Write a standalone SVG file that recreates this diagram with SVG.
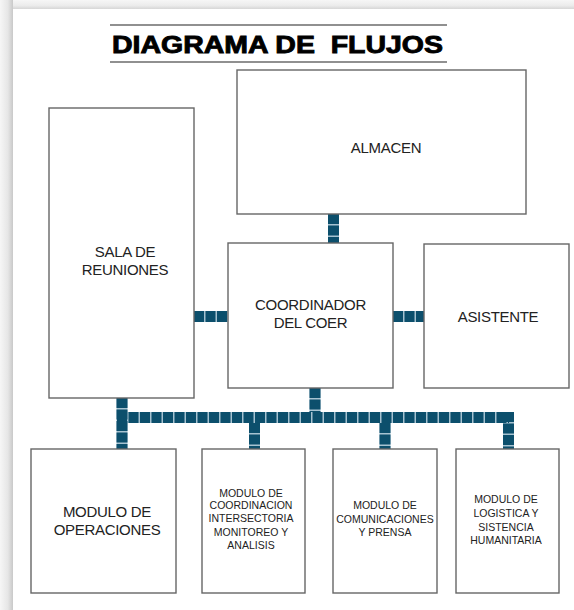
<svg xmlns="http://www.w3.org/2000/svg" width="574" height="610" viewBox="0 0 574 610">
<defs>
<linearGradient id="shL" x1="0" y1="0" x2="1" y2="0">
<stop offset="0" stop-color="#f6f6f6"/><stop offset="0.6" stop-color="#e6e6e6"/><stop offset="1" stop-color="#c9c9c9"/>
</linearGradient>
<linearGradient id="shT" x1="0" y1="0" x2="0" y2="1">
<stop offset="0" stop-color="#f6f6f6"/><stop offset="0.6" stop-color="#ececec"/><stop offset="1" stop-color="#d6d6d6"/>
</linearGradient>
<style>
.box{fill:#fff;stroke:#666;stroke-width:1.4}
.lbl{font-family:"Liberation Sans",Arial,sans-serif;font-size:15px;letter-spacing:-0.3px;fill:#222;text-anchor:middle}
.sm{font-family:"Liberation Sans",Arial,sans-serif;font-size:10.5px;fill:#222;text-anchor:middle}
.pipeBg{fill:none;stroke:#a7c3d1;stroke-width:11}
.pipe{fill:none;stroke:#0c4f6c;stroke-width:11;stroke-dasharray:10 1.5}
</style>
</defs>
<rect x="0" y="0" width="574" height="610" fill="#f6f6f6"/>
<rect x="0" y="0" width="13" height="610" fill="url(#shL)"/>
<rect x="13" y="0" width="561" height="9" fill="url(#shT)"/>
<rect x="13" y="9" width="561" height="601" fill="#fff"/>

<g id="title">
<line x1="110" y1="25" x2="447" y2="25" stroke="#222" stroke-width="1.2"/>
<line x1="110" y1="62" x2="447" y2="62" stroke="#222" stroke-width="1.2"/>
<text x="112" y="53" font-family="'Liberation Sans',Arial,sans-serif" font-size="24" font-weight="bold" fill="#000" stroke="#000" stroke-width="0.9" textLength="331" lengthAdjust="spacingAndGlyphs" style="white-space:pre">DIAGRAMA DE  FLUJOS</text>
</g>

<g id="connectors">
<path class="pipeBg" d="M333.5 214V243M194 316.5H228M393 316.5H424M122 398V449M315 388V412M117 417.5H509M508.5 412V449M254.5 423V449M385 423V449"/>
<path class="pipe" d="M333.5 214V243"/>
<path class="pipe" d="M194 316.5H228"/>
<path class="pipe" d="M393 316.5H424"/>
<path class="pipe" d="M122 398V449"/>
<path class="pipe" d="M315 388V412"/>
<path class="pipe" d="M117 417.5H509"/>
<path class="pipe" d="M508.5 412V449"/>
<path class="pipe" d="M254.5 423V449"/>
<path class="pipe" d="M385 423V449"/>
</g>

<g id="almacen">
<rect class="box" x="237" y="70" width="289" height="144"/>
<text class="lbl" x="386" y="153">ALMACEN</text>
</g>
<g id="sala">
<rect class="box" x="49" y="108" width="145" height="290"/>
<text class="lbl" x="125" y="257">SALA DE</text>
<text class="lbl" x="125" y="275">REUNIONES</text>
</g>
<g id="coordinador">
<rect class="box" x="228" y="243" width="165" height="145"/>
<text class="lbl" x="310.5" y="310">COORDINADOR</text>
<text class="lbl" x="310.5" y="328">DEL COER</text>
</g>
<g id="asistente">
<rect class="box" x="424" y="244" width="145" height="144"/>
<text class="lbl" x="498" y="322">ASISTENTE</text>
</g>
<g id="operaciones">
<rect class="box" x="31" y="449" width="145" height="144"/>
<text class="lbl" x="107" y="517">MODULO DE</text>
<text class="lbl" x="107" y="535">OPERACIONES</text>
</g>
<g id="coordinacion">
<rect class="box" x="202" y="449" width="103" height="144"/>
<text class="sm" x="251" y="497">MODULO DE</text>
<text class="sm" x="251" y="509">COORDINACION</text>
<text class="sm" x="251" y="522">INTERSECTORIA</text>
<text class="sm" x="251" y="536">MONITOREO Y</text>
<text class="sm" x="251" y="549">ANALISIS</text>
</g>
<g id="comunicaciones">
<rect class="box" x="333" y="449" width="104" height="144"/>
<text class="sm" x="385" y="509">MODULO DE</text>
<text class="sm" x="385" y="523">COMUNICACIONES</text>
<text class="sm" x="385" y="536">Y PRENSA</text>
</g>
<g id="logistica">
<rect class="box" x="456" y="449" width="103" height="144"/>
<text class="sm" x="506" y="503">MODULO DE</text>
<text class="sm" x="506" y="517">LOGISTICA Y</text>
<text class="sm" x="506" y="531">SISTENCIA</text>
<text class="sm" x="506" y="544">HUMANITARIA</text>
</g>
</svg>
